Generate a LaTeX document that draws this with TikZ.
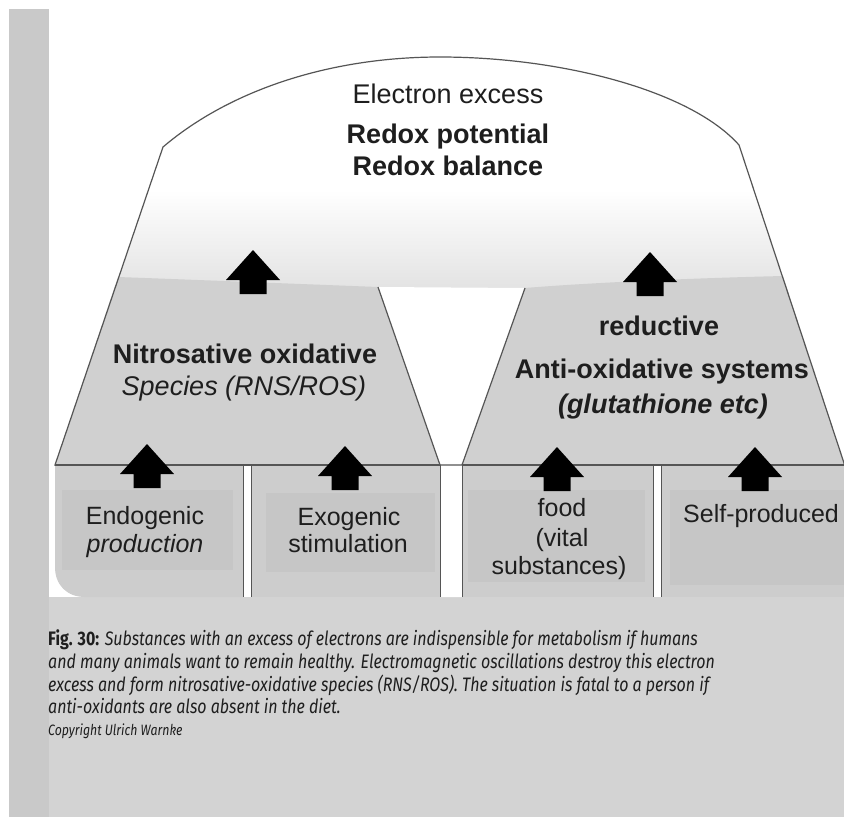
\documentclass[tikz,border=0pt]{standalone}
\usepackage{fontspec}
\setmainfont{Liberation Sans}
\newfontfamily\capfont[FakeStretch=0.82]{Fira Sans}
\definecolor{pyr}{HTML}{D0D0D0}
\definecolor{boxc}{HTML}{CDCDCD}
\definecolor{innerc}{HTML}{C6C6C6}
\definecolor{capbg}{HTML}{D3D3D3}
\definecolor{strip}{HTML}{C9C9C9}
\definecolor{edge}{HTML}{555555}
\definecolor{ink}{HTML}{1E1E1E}
\definecolor{lidbot}{HTML}{E2E2E2}
\tikzset{
  lbl/.style={anchor=base, text=ink, inner sep=0pt, font=\fontsize{27}{30}\selectfont},
  blbl/.style={lbl, font=\fontsize{27}{30}\selectfont\bfseries},
  slbl/.style={lbl, font=\fontsize{25}{28}\selectfont},
  caprow/.style={anchor=base west, inner sep=0pt, text=ink, font=\capfont\fontsize{19.5}{22}\selectfont\itshape},
  edgeline/.style={draw=edge, line width=1.2pt},
  thinline/.style={draw=edge, line width=0.8pt},
  uparrow/.pic={\fill[black] (0,0) -- (27,30) -- (13.5,30) -- (13.5,44) -- (-13.5,44) -- (-13.5,30) -- (-27,30) -- cycle;}
}
\begin{document}
\begin{tikzpicture}[x=1pt,y=-1pt]
\useasboundingbox (0,0) rectangle (844,817);
\fill[white] (0,0) rectangle (844,817);
% page background
\fill[strip] (9,9) rectangle (49,817);
\fill[capbg] (49,597) rectangle (844,817);
% lid + pyramids outline region
\def\outline{(55,465) -- (163,147) .. controls (230,90) and (330,57) .. (440,57) .. controls (560,57) and (690,90) .. (739,145) -- (844,463) -- (844,465) -- cycle}
\fill[white] \outline;
\begin{scope}
  \clip \outline;
  \shade[top color=white, bottom color=lidbot] (0,190) rectangle (844,292);
\end{scope}
% pyramids
\fill[pyr] (55,465) -- (118,277) .. controls (200,280) and (300,284) .. (378,287) -- (440,465) -- cycle;
\fill[pyr] (462,465) -- (525,288) .. controls (600,282) and (700,278) .. (783,276) -- (844,463) -- (844,465) -- cycle;
% gap between pyramids
\fill[white] (378,287) -- (525,288) -- (462,465) -- (462,597) -- (440,597) -- (440,465) -- cycle;
\draw[edgeline] \outline;
\draw[edgeline] (378,287) -- (440,465);
\draw[edgeline] (525,288) -- (462,465);
% boxes
\fill[boxc] (55,465) -- (243,465) -- (243,597) -- (85,597) .. controls (67,597) and (55,585) .. (55,567) -- cycle;
\fill[boxc] (251,465) rectangle (440,597);
\fill[boxc] (462,465) rectangle (653,597);
\fill[boxc] (661,465) rectangle (844,597);
\fill[innerc] (62,490) rectangle (233,570);
\fill[innerc] (266,493) rectangle (435,572);
\fill[innerc] (468,490) rectangle (645,582);
\fill[innerc] (670,490) rectangle (844,585);
\draw[edgeline] (55,465) -- (440,465);
\draw[edgeline] (462,465) -- (844,465);
\draw[thinline] (243,465) -- (243,597);
\draw[thinline] (251,465) -- (251,597);
\draw[thinline] (653,465) -- (653,597);
\draw[thinline] (661,465) -- (661,597);
\draw[thinline] (440,465) -- (440,597);
\draw[thinline] (462,465) -- (462,597);
% arrows
\pic (aupl) at (253,250) {uparrow};
\pic (aupr) at (650,252) {uparrow};
\pic (aendo) at (147,444) {uparrow};
\pic (aexo) at (345,446) {uparrow};
\pic (afood) at (557,447) {uparrow};
\pic (aself) at (755,447) {uparrow};
% lid text
\node[lbl] (t1) at (448,103) {Electron excess};
\node[blbl] (t2) at (448,143) {Redox potential};
\node[blbl] (t3) at (448,175) {Redox balance};
% left pyramid
\node[blbl] (n1) at (245,363) {Nitrosative oxidative};
\node[lbl, font=\fontsize{27}{30}\selectfont\itshape] (n2) at (244,395) {Species (RNS/ROS)};
% right pyramid
\node[blbl] (r1) at (659,335) {reductive};
\node[blbl] (r2) at (662,378) {Anti-oxidative systems};
\node[blbl, font=\fontsize{27}{30}\selectfont\bfseries\itshape] (r3) at (663,413) {(glutathione etc)};
% boxes text
\node[slbl] (b1) at (145,524) {Endogenic};
\node[slbl, font=\fontsize{25}{28}\selectfont\itshape] (b2) at (145,552) {production};
\node[slbl] (b3) at (349,525) {Exogenic};
\node[slbl] (b4) at (348,552) {stimulation};
\node[slbl] (b5) at (562,516) {food};
\node[slbl] (b6) at (562,546) {(vital};
\node[slbl] (b7) at (559,574) {substances)};
\node[slbl] (b8) at (761,522) {Self-produced};
% caption
\node[caprow] (c1) at (48,645) {{\upshape\bfseries Fig. 30:} Substances with an excess of electrons are indispensible for metabolism if humans};
\node[caprow] (c2) at (48,668) {and many animals want to remain healthy. Electromagnetic oscillations destroy this electron};
\node[caprow] (c3) at (48,691) {excess and form nitrosative-oxidative species (RNS/ROS). The situation is fatal to a person if};
\node[caprow] (c4) at (48,713) {anti-oxidants are also absent in the diet.};
\node[caprow, font=\capfont\fontsize{15}{16}\selectfont\itshape] (c5) at (48,735) {Copyright Ulrich Warnke};
\end{tikzpicture}
\end{document}
